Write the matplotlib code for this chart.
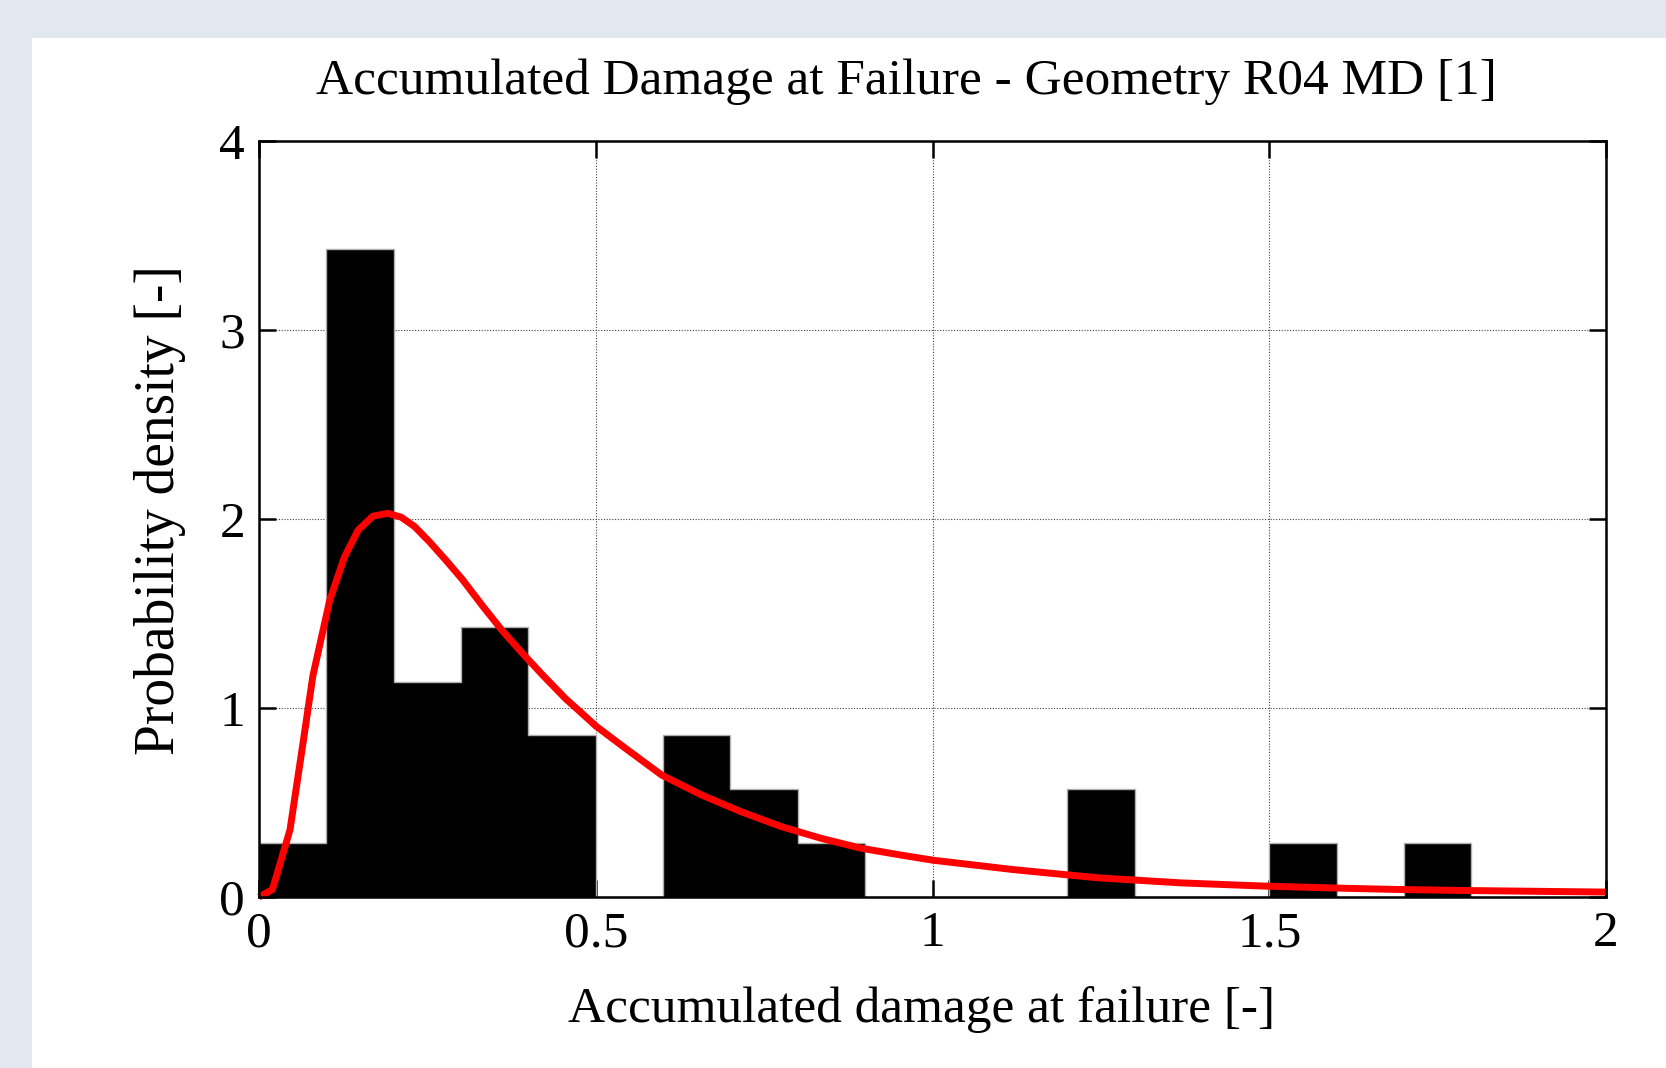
import matplotlib
matplotlib.use("Agg")
import matplotlib.pyplot as plt
from matplotlib.patches import Rectangle

# ---- data ----
bin_left = [0.0, 0.1, 0.2, 0.3, 0.4, 0.5, 0.6, 0.7, 0.8, 0.9,
            1.0, 1.1, 1.2, 1.3, 1.4, 1.5, 1.6, 1.7, 1.8, 1.9]
bin_density = [0.286, 3.43, 1.14, 1.43, 0.857, 0.0, 0.857, 0.571, 0.286, 0.0,
               0.0, 0.0, 0.571, 0.0, 0.0, 0.286, 0.0, 0.286, 0.0, 0.0]
bin_width = 0.1

fit_x = [0.0, 0.02, 0.046, 0.066, 0.08, 0.105, 0.127, 0.147, 0.169, 0.191,
         0.211, 0.231, 0.253, 0.278, 0.302, 0.332, 0.361, 0.391, 0.421, 0.455,
         0.48, 0.5, 0.544, 0.598, 0.657, 0.716, 0.776, 0.835, 0.894, 0.953,
         1.0, 1.12, 1.244, 1.367, 1.49, 1.614, 1.688, 1.8, 1.9, 2.0]
fit_y = [0.0, 0.04, 0.355, 0.83, 1.17, 1.57, 1.80, 1.94, 2.015, 2.03,
         2.01, 1.96, 1.88, 1.78, 1.68, 1.54, 1.41, 1.29, 1.175, 1.05,
         0.97, 0.905, 0.787, 0.645, 0.54, 0.451, 0.372, 0.31, 0.258, 0.222,
         0.195, 0.145, 0.102, 0.075, 0.058, 0.046, 0.04, 0.034, 0.03, 0.026]

x_ticks = [0, 0.5, 1, 1.5, 2]
x_tick_labels = ["0", "0.5", "1", "1.5", "2"]
y_ticks = [0, 1, 2, 3, 4]
y_tick_labels = ["0", "1", "2", "3", "4"]

title = "Accumulated Damage at Failure - Geometry R04 MD [1]"
xlabel = "Accumulated damage at failure [-]"
ylabel = "Probability density [-]"

# ---- figure ----
W, H = 1666, 1068
plt.rcParams["font.family"] = ["Liberation Serif", "DejaVu Serif"]
fig = plt.figure(figsize=(W / 100, H / 100), dpi=100)
fig.patch.set_facecolor("#e3e7f0")
fig.patches.append(Rectangle((32 / W, 0), 1 - 32 / W, (H - 38) / H,
                             transform=fig.transFigure, facecolor="white",
                             edgecolor="none", zorder=-5))

L, R, T, B = 259, 1606, 141, 897
ax = fig.add_axes([L / W, (H - B) / H, (R - L) / W, (B - T) / H])
ax.set_zorder(2)
ax.set_facecolor("white")
ax.set_axisbelow(True)

ax.bar(bin_left, bin_density, width=bin_width, align="edge",
       color="black", edgecolor="none", linewidth=0, zorder=2)
edges = bin_left + [bin_left[-1] + bin_width]
ax.stairs(bin_density, edges, baseline=0, color="#b0b0b0", linewidth=1.0,
          zorder=2.5)
ax.plot(fit_x, fit_y, color="#ff0000", linewidth=5.0, solid_joinstyle="round",
        solid_capstyle="butt", zorder=3, clip_on=False)

ax.set_xlim(0, 2)
ax.set_ylim(0, 4)
ax.set_xticks(x_ticks)
ax.set_xticklabels(x_tick_labels)
ax.set_yticks(y_ticks)
ax.set_yticklabels(y_tick_labels)
ax.grid(True, color="#444444", linestyle=(0, (1, 1.5)), linewidth=0.8)
ax.tick_params(direction="in", length=12, width=1.8, top=True, right=True,
               labelsize=37, pad=10, colors="black")
for s in ax.spines.values():
    s.set_linewidth(1.8)
    s.set_color("black")
    s.set_zorder(4)

fig.text(906 / W, 1 - 82 / H, title, ha="center", va="center", fontsize=37)
fig.text(922 / W, 1 - 1010 / H, xlabel, ha="center", va="center", fontsize=37)
fig.text(160 / W, 1 - 510 / H, ylabel, ha="center", va="center", fontsize=40,
         rotation=90)

fig.savefig("out.png", dpi=100, facecolor=fig.get_facecolor())
